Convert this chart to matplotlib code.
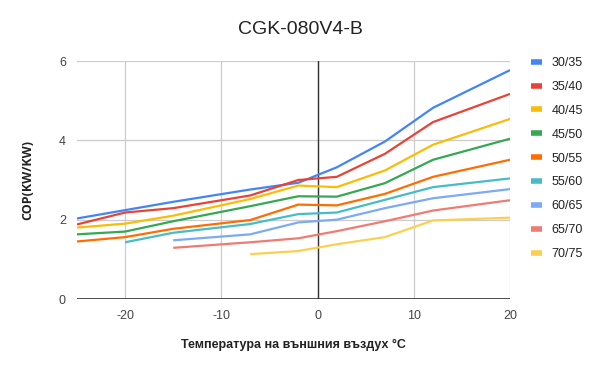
import matplotlib
matplotlib.use("Agg")
import matplotlib.pyplot as plt
from matplotlib.lines import Line2D

temps = [-25, -20, -15, -7, -2, 2, 7, 12, 20]
series_names = ["30/35", "35/40", "40/45", "45/50", "50/55", "55/60", "60/65", "65/70", "70/75"]
cop_30_35 = [2.03, 2.24, 2.45, 2.76, 2.93, 3.32, 3.97, 4.82, 5.77]
cop_35_40 = [1.88, 2.18, 2.29, 2.61, 3.00, 3.08, 3.66, 4.46, 5.17]
cop_40_45 = [1.80, 1.90, 2.10, 2.52, 2.86, 2.82, 3.24, 3.89, 4.54]
cop_45_50 = [1.63, 1.70, 1.96, 2.34, 2.59, 2.58, 2.92, 3.51, 4.04]
cop_50_55 = [1.45, 1.56, 1.77, 1.99, 2.38, 2.36, 2.65, 3.08, 3.51]
cop_55_60 = [None, 1.43, 1.67, 1.89, 2.14, 2.18, 2.50, 2.82, 3.04]
cop_60_65 = [None, None, 1.48, 1.63, 1.93, 2.00, 2.29, 2.54, 2.77]
cop_65_70 = [None, None, 1.29, 1.43, 1.53, 1.71, 1.96, 2.23, 2.49]
cop_70_75 = [None, None, None, 1.13, 1.21, 1.38, 1.56, 1.98, 2.05]
all_series = [cop_30_35, cop_35_40, cop_40_45, cop_45_50, cop_50_55,
              cop_55_60, cop_60_65, cop_65_70, cop_70_75]
colors = ["#4285F4", "#EA4335", "#FBBC04", "#34A853", "#FF6D01",
          "#46BDC6", "#7BAAF7", "#F07B72", "#FCD04F"]

plt.rcParams['font.family'] = ['Liberation Sans', 'DejaVu Sans']
plt.rcParams['axes.unicode_minus'] = False

fig = plt.figure(figsize=(6.0, 3.71), dpi=100)
ax = fig.add_axes([77/600, 1-299/371, (510-77)/600, (299-61)/371])

for name, vals, c in zip(series_names, all_series, colors):
    xs = [t for t, v in zip(temps, vals) if v is not None]
    ys = [v for v in vals if v is not None]
    ax.plot(xs, ys, color=c, lw=1.6, label=name, solid_capstyle='butt', zorder=3)

ax.set_xlim(-25, 20)
ax.set_ylim(0, 6)
ax.set_xticks([-20, -10, 0, 10, 20])
ax.set_yticks([0, 2, 4, 6])
ax.grid(True, color="#cccccc", lw=0.9, zorder=0)
ax.axvline(0, color="#333333", lw=1.0, zorder=2)
ax.axhline(0, color="#333333", lw=1.2, zorder=2)
for s in ax.spines.values():
    s.set_visible(False)
ax.tick_params(length=0, labelsize=9, colors="#444444", pad=8)

fig.text(0.5, 1-30/371, "CGK-080V4-B", ha="center", va="center", fontsize=14, color="#222222")
ax.set_xlabel("Температура на външния въздух °C", fontsize=9, fontweight="bold", color="#222222", labelpad=12)
ax.set_ylabel("COP(KW/KW)", fontsize=9, fontweight="bold", color="#222222", labelpad=18,
              family=["Open Sans", "DejaVu Sans"])

handles = [Line2D([0], [0], color=c, lw=4, solid_capstyle='butt') for c in colors]
leg = fig.legend(handles, series_names, loc="upper left", bbox_to_anchor=(526/600, 1-52/371),
                 frameon=False, fontsize=9, handlelength=0.9, handletextpad=0.75,
                 labelspacing=0.95, borderaxespad=0)
for t in leg.get_texts():
    t.set_color("#222222")

fig.savefig("out.png", dpi=100)
